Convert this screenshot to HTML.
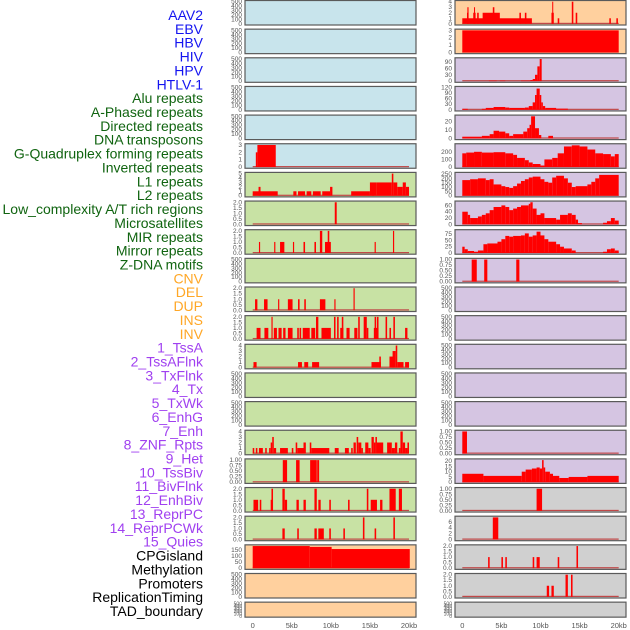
<!DOCTYPE html>
<html><head><meta charset="utf-8">
<style>
html,body{margin:0;padding:0;background:#fff;width:630px;height:630px;overflow:hidden}
svg{display:block}
</style></head>
<body>
<svg id="chart" width="630" height="630" viewBox="0 0 630 630"></svg>
<script>
// ---- data: segments are [startKb, endKb, value] ----
const trackLabels = ["AAV2","EBV","HBV","HIV","HPV","HTLV-1","Alu repeats","A-Phased repeats","Directed repeats","DNA transposons","G-Quadruplex forming repeats","Inverted repeats","L1 repeats","L2 repeats","Low_complexity A/T rich regions","Microsatellites","MIR repeats","Mirror repeats","Z-DNA motifs","CNV","DEL","DUP","INS","INV","1_TssA","2_TssAFlnk","3_TxFlnk","4_Tx","5_TxWk","6_EnhG","7_Enh","8_ZNF_Rpts","9_Het","10_TssBiv","11_BivFlnk","12_EnhBiv","13_ReprPC","14_ReprPCWk","15_Quies","CPGisland","Methylation","Promoters","ReplicationTiming","TAD_boundary"];
const labelGroups = [6,13,5,15,5];
const xTickValues = [0,5,10,15,20];
const xTickLabels = ["0","5kb","10kb","15kb","20kb"];

const r0R = [[0,8.9,1],[0.6,0.8,2],[0.65,0.8,3],[1.4,1.7,2],[1.5,1.6,3],[1.9,2.1,2],[2.6,4.8,2],[3.9,4.1,3],[7.3,7.5,2],[8.0,8.2,2],[11.4,11.7,2],[11.5,11.6,4],[12.2,12.4,1],[14.0,14.2,4],[14.5,14.7,2],[18.8,19.0,1],[19.7,19.9,1]];
const r1R = [[0,20,3]];
const r2R = [[3.4,4.4,2],[4.8,5.5,2],[7.5,8.7,2],[8.7,9.0,5],[9.0,9.3,10],[9.3,9.6,30],[9.6,9.9,70],[9.9,10.15,105]];
const r3R = [[0,0.7,5],[2.5,3,5],[3,4,10],[4,5.5,15],[5.5,6,12],[6,8,10],[8,8.5,12],[8.5,9,20],[9,9.3,40],[9.3,9.5,80],[9.5,9.9,115],[9.9,10.1,80],[10.1,10.3,40],[10.3,10.6,20],[10.6,12,10],[12,13.5,6]];
const r4R = [[0,2.5,2],[2.5,3.5,3],[3.5,4,5],[4,4.7,9],[4.7,5.5,8],[5.5,6,6],[6,6.5,3],[6.5,7.8,5],[7.8,8.3,8],[8.3,8.6,12],[8.6,8.8,16],[8.8,9.3,26],[9.3,9.8,12],[9.8,10.1,4],[11,11.6,3]];
const r5L = [[0.4,0.6,2],[0.6,2.95,3]];
const r5R = [[0,0.5,180],[0.5,1.5,190],[1.5,2.5,200],[2.5,4,190],[4,5.5,195],[5.5,6.5,180],[6.5,7,160],[7,8,120],[8,8.5,90],[8.5,9,60],[9,10,40],[10,10.5,20],[10.5,11.5,100],[11.5,12.2,120],[12.2,13,180],[13,14,270],[14,15,285],[15,16,270],[16,17,230],[17,18,180],[18,19,170],[19,19.5,140],[19.5,20,170]];
const r6L = [[0,3.2,1],[0.75,1.0,2],[5.2,5.6,1],[5.8,6.7,1],[6.9,7.5,1],[7.7,8.7,1],[8.9,9.9,1],[9.9,10.2,2],[12.6,15,1],[15,15.8,3],[15.3,15.5,2],[15.8,17.8,3],[17.8,18.0,5],[18.0,18.5,3],[18.5,19.2,2],[19.2,19.6,3],[19.6,20,2]];
const r6R = [[0,1,180],[1,2,190],[2,3,200],[3,3.5,180],[3.5,4,190],[4,5,130],[5,5.5,110],[5.5,6,100],[6,6.5,90],[6.5,7,110],[7,7.5,140],[7.5,8,170],[8,8.5,190],[8.5,9,210],[9,10,220],[10,10.5,190],[10.5,11,160],[11,11.5,150],[11.5,12,210],[12,13,230],[13,13.5,200],[13.5,14,150],[14,14.5,100],[14.5,16,110],[16,16.5,130],[16.5,17,160],[17,17.5,200],[17.5,20,240]];
const r7L = [[10.5,10.75,2]];
const r7R = [[0,0.7,40],[0.7,1,30],[1,2,20],[2,2.5,25],[2.5,3,30],[3,3.5,35],[3.5,4,45],[4,5,55],[5,5.5,60],[5.5,6,55],[6,6.5,45],[6.5,7,50],[7,7.5,55],[7.5,8.5,60],[8.5,8.7,65],[8.7,9,70],[9,9.5,50],[9.5,10,30],[10,10.5,35],[10.5,12,20],[12,12.5,15],[12.5,13.5,30],[13.5,14,35],[14,14.5,30],[14.5,14.8,15],[14.6,15.3,4],[18,18.5,5],[18.5,19,10],[19,19.5,20],[19.5,20,12]];
const r8L = [[0.8,0.95,1],[2.75,2.9,1],[3.5,4.05,1],[5.15,5.3,1],[6.5,6.7,1],[7.9,8.1,1],[8.6,8.9,2],[9.25,10,1],[9.6,9.8,2],[15.6,15.75,1],[17.95,18.1,2]];
const r8R = [[0,0.3,25],[0.3,0.7,15],[0.7,1.5,8],[1.5,2,5],[2,2.7,10],[2.7,3.2,35],[3.2,4.5,38],[4.5,5,45],[5,5.5,55],[5.5,6,68],[6,6.5,65],[6.5,7.5,68],[7.5,8,70],[8,8.5,78],[8.5,9,65],[9,9.5,70],[9.5,10,85],[10,10.5,70],[10.5,11,55],[11,12,45],[12,12.5,35],[12.5,13,25],[13,14,18],[14,14.5,10],[18,18.5,5],[18.5,19,15],[19,19.5,18],[19.5,20,10]];
const r9R = [[1.2,1.85,1],[2.8,3.2,1],[6.9,7.3,1]];
const r10L = [[0.3,0.6,1],[1.45,1.9,1],[3.25,3.4,1],[4.5,5.1,1],[5.8,6.0,1],[6.6,6.8,1],[8.6,9.3,1],[10.45,10.6,1],[12.9,13.05,2]];
const r11L = [[0.5,1.0,1],[1.5,2.0,1],[2.4,2.55,2],[2.7,3.1,1],[3.3,3.7,1],[3.9,4.2,1],[4.5,5.1,1],[5.7,5.9,1],[6.0,6.2,1],[6.4,7.3,1],[7.5,8.0,1],[8.1,8.4,2],[8.8,10.0,1],[10.4,10.6,2],[10.8,11.0,2],[11.2,11.6,1],[11.4,11.6,2],[12.0,12.4,1],[13.0,13.4,1],[13.5,13.7,2],[14.2,14.6,2],[14.6,14.8,1],[15.5,16.1,1],[15.6,15.8,2],[15.9,16.1,2],[17.0,17.2,2],[17.5,17.7,1],[18.0,18.2,2],[19.5,19.8,1]];
const r12L = [[0.1,0.5,1],[5.8,6.3,1],[6.6,7.1,1],[7.6,8.5,1],[15.2,16.4,1],[16.2,16.4,2],[17.5,18.0,2],[17.9,18.3,3],[18.3,18.5,4],[18.5,19.3,1],[19.5,20,1]];
const r15L = [[0,0.2,1],[0.4,0.6,1],[0.8,1.3,1],[1.6,1.8,1],[2.1,2.3,1],[2.3,2.5,2],[2.5,2.7,3],[2.7,3.0,1],[3.5,4.5,1],[5.0,5.2,1],[5.5,5.7,2],[5.7,6.5,1],[6.5,6.8,2],[7.3,7.5,2],[7.5,9.8,1],[10.5,11.0,1],[11.8,12.3,1],[12.6,12.8,1],[12.9,13.2,2],[13.3,13.5,3],[13.5,13.9,2],[13.9,14.1,1],[14.4,14.8,2],[14.8,15.1,1],[15.2,15.5,3],[15.5,15.7,2],[15.7,15.9,3],[15.9,16.7,2],[17.2,17.8,2],[17.8,18.2,1],[18.2,18.5,2],[18.7,18.9,1],[18.9,19.2,4],[19.2,19.5,2],[19.5,19.8,1],[19.8,20,2]];
const r15R = [[0,0.6,1]];
const r16L = [[3.85,4.4,1],[5.55,6.0,1],[7.35,8.2,1],[8.25,8.5,1]];
const r16R = [[0,2.7,8],[2.7,7.6,6],[7.6,8.1,10],[8.1,8.9,12],[8.9,9.5,13],[9.5,9.9,14],[9.9,10.2,13],[10.2,10.4,21],[10.4,10.6,14],[10.6,11.2,10],[11.2,11.6,8],[11.6,12.4,6],[12.4,13.6,4],[13.6,16,5],[16,20,6]];
const r17L = [[0.1,0.7,1],[0.9,1.1,1],[2.3,2.6,1],[2.4,2.6,2],[3.8,4.1,2],[4.1,4.4,1],[5.6,5.9,1],[6.5,6.8,1],[7.9,8.2,2],[8.4,8.7,1],[9.8,10.0,1],[12.2,12.4,1],[14.6,14.8,2],[15.1,15.9,1],[16.3,16.6,1],[17.5,18.3,2],[18.7,19.1,2]];
const r17R = [[9.5,10.2,1]];
const r18L = [[3.8,4.1,1],[5.7,5.9,1],[7.9,8.2,1],[8.4,9.1,1],[9.8,10.0,1],[11.6,11.8,1],[14.1,14.3,2],[15.6,15.8,1],[18.0,18.2,2]];
const r18R = [[3.9,4.6,7.5]];
const r19L = [[0,7.3,185],[7.3,10.1,178],[10.1,20.1,160]];
const r19R = [[3.3,3.5,1],[5.0,5.2,1],[5.5,5.7,1],[9.0,9.2,1],[9.5,9.9,1],[12.2,12.4,1],[14.6,14.8,2]];
const r20R = [[10.8,11.1,1],[11.4,11.7,1],[13.2,13.5,2],[13.9,14.1,2]];

const emptyTicks = [0,100,200,300,400,500];
const ticks4 = [0,1,2,3,4];
const ticks3 = [0,1,2,3];
const ticks2 = [0,0.5,1,1.5,2];
const ticks1 = [0,0.25,0.5,0.75,1];

// [leftSegs,leftMax,leftTicks,leftBg, rightSegs,rightMax,rightTicks,rightBg]
const panels = [
 [null,500,emptyTicks,"blue", r0R,4,ticks4,"orange"],
 [null,500,emptyTicks,"blue", r1R,3,ticks3,"orange"],
 [null,500,emptyTicks,"blue", r2R,105,[0,30,60,90],"purple"],
 [null,500,emptyTicks,"blue", r3R,120,[0,30,60,90,120],"purple"],
 [null,500,emptyTicks,"blue", r4R,26,[0,10,20],"purple"],
 [r5L,3,ticks3,"blue", r5R,290,[0,100,200],"purple"],
 [r6L,5,[0,1,2,3,4,5],"green", r6R,255,[0,50,100,150,200,250],"purple"],
 [r7L,2,ticks2,"green", r7R,70,[0,20,40,60],"purple"],
 [r8L,2,ticks2,"green", r8R,88,[0,25,50,75],"purple"],
 [null,500,emptyTicks,"green", r9R,1,ticks1,"purple"],
 [r10L,2,ticks2,"green", null,500,emptyTicks,"purple"],
 [r11L,2,ticks2,"green", null,500,emptyTicks,"purple"],
 [r12L,4,ticks4,"green", null,500,emptyTicks,"purple"],
 [null,500,emptyTicks,"green", null,500,emptyTicks,"purple"],
 [null,500,emptyTicks,"green", null,500,emptyTicks,"purple"],
 [r15L,4,ticks4,"green", r15R,1,ticks1,"purple"],
 [r16L,1,ticks1,"green", r16R,21,[0,5,10,15,20],"purple"],
 [r17L,2,ticks2,"green", r17R,1,ticks1,"gray"],
 [r18L,2,ticks2,"green", r18R,7.5,[0,2,4,6],"gray"],
 [r19L,185,[0,50,100,150],"orange", r19R,2,ticks2,"gray"],
 [null,500,emptyTicks,"orange", r20R,2,ticks2,"gray"],
 [null,500,emptyTicks,"orange", null,500,emptyTicks,"gray"]
];

const bgColors = {blue:"#c8e4ec",green:"#c8e2a4",orange:"#ffd09e",purple:"#d5c5e2",gray:"#d0d0d0"};
const labelColors = ["#1414f0","#106410","#ffa726","#a040f0","#000000"];

const NS = "http://www.w3.org/2000/svg";
const svg = document.getElementById("chart");
function mk(tag, attrs, parent){
  const e = document.createElementNS(NS, tag);
  for (const k in attrs) e.setAttribute(k, attrs[k]);
  (parent||svg).appendChild(e);
  return e;
}
function decimalsOf(v){ const s = String(v); const i = s.indexOf('.'); return i<0?0:s.length-i-1; }
const cols = [{x0:245,x1:416,d0:252.7,d1:409},{x0:455,x1:626,d0:462.3,d1:618.7}];
function xScale(c, kb){ return c.d0 + (c.d1-c.d0)*kb/20; }
const pitch = 28.65;

// labels
let li = 0;
labelGroups.forEach((n,g)=>{
  for (let k=0;k<n;k++){
    const t = mk("text",{x:203,y:15+13.86*li,"text-anchor":"end","dominant-baseline":"central",
      "font-family":"Liberation Sans, sans-serif","font-size":"14",fill:labelColors[g]});
    
    
    t.textContent = trackLabels[li];
    li++;
  }
});

panels.forEach((p,i)=>{
  const top = 0.5 + pitch*i;
  const h = (i===21) ? 15 : 24.5;
  for (let s=0;s<2;s++){
    const c = cols[s];
    const segs = p[s*4], ymax = p[s*4+1], ticks = p[s*4+2], bg = p[s*4+3];
    const g = mk("g",{});
    
    
    const r = mk("rect",{x:c.x0,y:top,width:c.x1-c.x0,height:h,fill:bgColors[bg],stroke:"#5a5a5a","stroke-width":1.2},g);
    
    
    const yb = top+h-1.2, yt = top+1.2;
    const yScale = v => yb - (yb-yt)*v/ymax;
    const dec = Math.max(...ticks.map(decimalsOf));
    ticks.forEach(tv=>{
      const t = mk("text",{x:c.x0-3,y:yScale(tv)+2,"text-anchor":"end","font-family":"Liberation Sans, sans-serif","font-size":(i===21?"5":"6.5"),fill:"#555"},g);
      
      
      t.textContent = tv.toFixed(dec);
    });
    if (segs){
      const bl = mk("rect",{x:xScale(c,0),y:yb-1,width:xScale(c,20)-xScale(c,0),height:1.2,fill:"#c04848"},g);
      
      
      segs.forEach(sg=>{
        const x0 = xScale(c,sg[0]), x1 = xScale(c,sg[1]);
        const y = yScale(sg[2]);
        const b = mk("rect",{x:x0,y:y,width:Math.max(1,x1-x0),height:yb-y,fill:"#ff0000"},g);
        
        
      });
    }
  }
});

// x axes
cols.forEach(c=>{
  xTickValues.forEach((v,k)=>{
    const t = mk("text",{x:xScale(c,v),y:628,"text-anchor":"middle","font-family":"Liberation Sans, sans-serif","font-size":"7.5",fill:"#555"});
    
    
    t.textContent = xTickLabels[k];
  });
});
</script>
</body></html>
